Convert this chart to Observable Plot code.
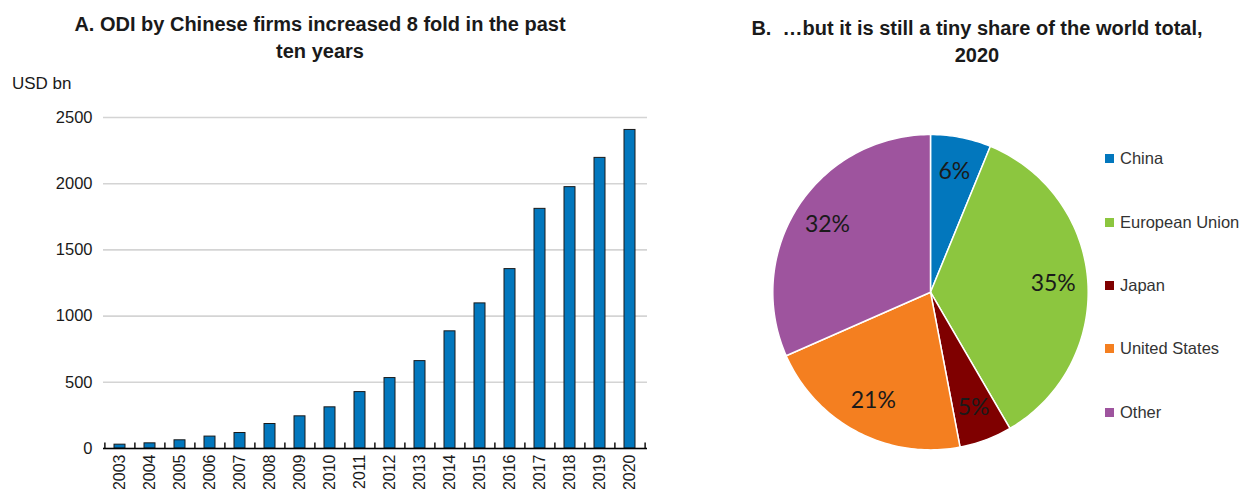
<!DOCTYPE html>
<html>
<head>
<meta charset="utf-8">
<script src="https://cdn.jsdelivr.net/npm/d3@7"></script>
<script src="https://cdn.jsdelivr.net/npm/@observablehq/plot@0.6"></script>
<style>
  html, body { margin: 0; padding: 0; background: #fff; }
  #root { position: relative; width: 1248px; height: 489px; overflow: hidden;
          font-family: "Liberation Sans Narrow", "Arial Narrow", "Liberation Sans", Arial, sans-serif; color: #1a1a1a; }
  .title { position: absolute; text-align: center; font-weight: bold; font-size: 20px; line-height: 27px; color: #1a1a1a; }
  .unit { position: absolute; left: 12px; top: 74px; font-size: 17px; color: #1a1a1a; }
  .panel { position: absolute; }
  .legend { position: absolute; left: 1105px; top: 0; }
  .legend .item { position: absolute; left: 0; white-space: nowrap; font-size: 16.5px; color: #333; line-height: 20px; }
  .legend .sw { display: inline-block; width: 9px; height: 9px; margin-right: 6px; vertical-align: 1px; }
</style>
</head>
<body>
<div id="root">
  <div class="title" style="left:20px; width:600px; top:11px;">A. ODI by Chinese firms increased 8 fold in the past<br>ten years</div>
  <div class="title" style="left:700px; width:554px; top:15px;">B.&nbsp; …but it is still a tiny share of the world total,<br>2020</div>
  <div class="unit">USD bn</div>
  <div id="bars" class="panel" style="left:0; top:100px;"></div>
  <div id="pie" class="panel" style="left:760px; top:100px;"></div>
  <div id="legend" class="legend"></div>
</div>
<script>
// ---- Data ----
const years = ["2003","2004","2005","2006","2007","2008","2009","2010","2011","2012","2013","2014","2015","2016","2017","2018","2019","2020"];
const odi = [29, 39, 62, 90, 117, 185, 243, 311, 426, 532, 660, 885, 1096, 1355, 1810, 1974, 2195, 2406];
const yTicks = [0, 500, 1000, 1500, 2000, 2500];

const regions = ["China", "European Union", "Japan", "United States", "Other"];
const shares = [6.2, 35.4, 5.4, 21.4, 31.6];
const shareLabels = ["6%", "35%", "5%", "21%", "32%"];
const regionColors = ["#0277BD", "#8CC63F", "#7F0000", "#F47F20", "#9E549E"];

const narrow = '"Liberation Sans Narrow", "Arial Narrow", "Liberation Sans", Arial, sans-serif';

// ---- Panel A: bars ----
const barData = years.map((y, i) => ({year: y, value: odi[i]}));
const W1 = 660, H1 = 389, mL = 103, mR = 13;
const step = (W1 - mL - mR) / years.length;
const bars = Plot.plot({
  width: W1, height: H1,
  marginLeft: mL, marginRight: mR, marginTop: 17, marginBottom: 41,
  style: {fontFamily: narrow, fontSize: "16px", color: "#1a1a1a", background: "transparent", overflow: "visible"},
  x: {type: "band", domain: years, paddingInner: 0.63, paddingOuter: 0.315},
  y: {domain: [0, 2500]},
  marks: [
    Plot.gridY(yTicks, {stroke: "#d4d4d4", strokeOpacity: 1, strokeWidth: 1.6}),
    Plot.barY(barData, {x: "year", y: "value", fill: "#0277BD", stroke: "#1a1a1a", strokeWidth: 1}),
    Plot.ruleY([0], {stroke: "#000", strokeWidth: 1.6}),
    Plot.ruleX(years, {x: d => d, y1: 0, y2: 42, dx: -step / 2, stroke: "#000", strokeWidth: 1.4}),
    Plot.ruleX(years.slice(-1), {x: d => d, y1: 0, y2: 42, dx: step / 2, stroke: "#000", strokeWidth: 1.4}),
    Plot.axisY(yTicks, {tickSize: 0, tickPadding: 11, fontSize: 16.5, label: null, tickFormat: d => String(d)}),
    Plot.axisX({tickSize: 0, tickPadding: 6, tickRotate: -90, fontSize: 16, label: null})
  ]
});
document.getElementById("bars").appendChild(bars);

// ---- Panel B: pie ----
const W2 = 488, H2 = 389, cx = 170, cy = 191.7, R = 157.7;
let cum = 0;
const slicePts = [];
const labelPts = [];
regions.forEach((name, i) => {
  const a0 = cum / 100 * 2 * Math.PI;
  cum += shares[i];
  const a1 = cum / 100 * 2 * Math.PI;
  const n = Math.max(4, Math.ceil(shares[i] * 3));
  slicePts.push({name, x: 0, y: 0});
  for (let k = 0; k <= n; k++) {
    const a = a0 + (a1 - a0) * k / n;
    slicePts.push({name, x: Math.sin(a), y: Math.cos(a)});
  }
  const am = (a0 + a1) / 2;
  labelPts.push({name, label: shareLabels[i], x: 0.78 * Math.sin(am), y: 0.78 * Math.cos(am)});
});
const pie = Plot.plot({
  width: W2, height: H2,
  margin: 0,
  style: {background: "transparent", overflow: "visible"},
  x: {domain: [-cx / R, (W2 - cx) / R], axis: null},
  y: {domain: [-(H2 - cy) / R, cy / R], axis: null},
  color: {domain: regions, range: regionColors},
  marks: [
    Plot.line(slicePts, {x: "x", y: "y", z: "name", fill: "name", stroke: "#fff", strokeWidth: 1.5, curve: "linear-closed"}),
    Plot.text(labelPts, {x: "x", y: "y", text: "label", fill: "#1a1a1a", fontSize: 23, fontFamily: "Lato, 'Noto Sans', sans-serif"})
  ]
});
document.getElementById("pie").appendChild(pie);

// ---- Legend ----
const legend = document.getElementById("legend");
const legendY = [158, 222, 285, 348, 412];
regions.forEach((name, i) => {
  const it = document.createElement("div");
  it.className = "item";
  it.style.top = (legendY[i] - 10) + "px";
  const sw = document.createElement("span");
  sw.className = "sw";
  sw.style.background = regionColors[i];
  it.appendChild(sw);
  it.appendChild(document.createTextNode(name));
  legend.appendChild(it);
});
</script>
</body>
</html>
